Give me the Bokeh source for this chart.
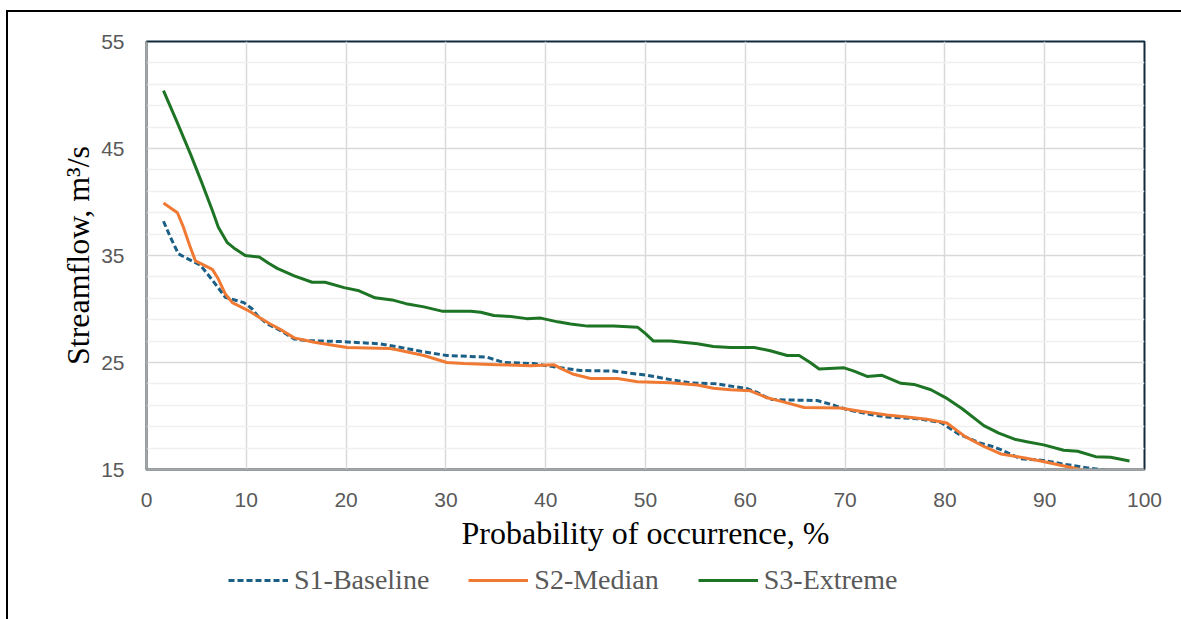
from bokeh.plotting import figure
from bokeh.layouts import column
from bokeh.models import FixedTicker, Legend, LegendItem, Range1d
from bokeh.embed import file_html
from bokeh.resources import INLINE

# ---- data ----
x_ticks = [0, 10, 20, 30, 40, 50, 60, 70, 80, 90, 100]
y_ticks = [15, 25, 35, 45, 55]
y_minor = [17, 19, 21, 23, 27, 29, 31, 33, 37, 39, 41, 43, 47, 49, 51, 53]

s1_x = [1.7, 2.4, 3.2, 4.1, 5.4, 6.6, 7.9, 9.0, 9.75, 10.6, 11.1, 12.1, 13.4, 14.8, 16.0,
        19.4, 23.4, 26.1, 27.5, 30.1, 34.1, 35.8, 38.8, 40.8, 43.5, 46.8, 50.2, 52.5, 54.5,
        57.2, 60.2, 61.2, 62.5, 64.2, 67.2, 68.9, 70.2, 72.2, 74.2, 77.2, 79.6, 81.4, 83.6,
        84.6, 85.6, 87.6, 89.9, 91.9, 94.3, 96.3]
s1_y = [38.2, 36.7, 35.15, 34.7, 34.1, 32.7, 31.1, 30.8, 30.6, 30.0, 29.4, 28.6, 28.0, 27.2,
        27.05, 26.96, 26.75, 26.3, 26.05, 25.65, 25.5, 25.0, 24.9, 24.6, 24.25, 24.2, 23.8,
        23.4, 23.1, 23.0, 22.55, 22.2, 21.55, 21.5, 21.45, 21.0, 20.6, 20.2, 19.9, 19.75,
        19.4, 18.3, 17.45, 17.2, 16.85, 16.0, 15.85, 15.5, 15.15, 14.9]

s2_x = [1.7, 3.1, 3.7, 4.3, 4.9, 6.6, 7.2, 7.9, 8.6, 10.1, 12.4, 13.4, 14.8, 16.8, 20.1,
        24.4, 25.1, 27.8, 30.1, 31.8, 35.1, 38.5, 40.8, 41.6, 42.8, 44.5, 47.2, 49.2, 52.5,
        55.2, 56.8, 58.5, 60.5, 62.2, 63.9, 65.9, 69.5, 71.5, 74.2, 76.2, 78.2, 80.2, 82.0,
        83.9, 85.6, 87.9, 89.6, 91.6, 93.6, 95.6]
s2_y = [39.9, 39.0, 37.65, 36.0, 34.5, 33.7, 32.8, 31.4, 30.6, 29.9, 28.6, 28.1, 27.3, 26.9,
        26.4, 26.3, 26.2, 25.65, 25.0, 24.9, 24.8, 24.7, 24.8, 24.4, 23.9, 23.5, 23.5, 23.2,
        23.1, 22.9, 22.6, 22.45, 22.35, 21.7, 21.3, 20.8, 20.75, 20.45, 20.1, 19.9, 19.7,
        19.35, 18.1, 17.15, 16.45, 16.1, 15.8, 15.4, 15.0, 14.7]

s3_x = [1.7, 3.0, 4.4, 5.5, 6.6, 7.2, 8.1, 8.9, 9.9, 11.3, 12.2, 13.1, 14.8, 16.6, 17.9,
        19.8, 21.3, 22.9, 24.6, 26.0, 27.8, 29.6, 32.5, 33.5, 34.8, 36.5, 38.1, 39.5, 41.2,
        42.5, 44.2, 46.8, 49.2, 50.0, 50.8, 52.5, 55.2, 56.8, 58.5, 60.9, 62.5, 64.2, 65.4,
        66.5, 67.4, 69.9, 70.9, 72.2, 73.7, 75.6, 76.9, 78.6, 80.1, 81.7, 83.9, 85.4, 87.1,
        88.2, 89.9, 91.9, 93.3, 95.1, 96.6, 98.5]
s3_y = [50.4, 47.6, 44.5, 41.9, 39.2, 37.65, 36.2, 35.6, 35.0, 34.85, 34.3, 33.8, 33.1, 32.5,
        32.5, 32.0, 31.7, 31.05, 30.85, 30.5, 30.2, 29.8, 29.8, 29.7, 29.4, 29.3, 29.1, 29.15,
        28.8, 28.6, 28.4, 28.4, 28.3, 27.7, 27.0, 27.0, 26.75, 26.5, 26.4, 26.4, 26.1, 25.65,
        25.65, 25.0, 24.4, 24.5, 24.2, 23.7, 23.8, 23.05, 22.95, 22.45, 21.7, 20.7, 19.1,
        18.4, 17.8, 17.6, 17.3, 16.8, 16.7, 16.2, 16.15, 15.8]

series_names = ["S1-Baseline", "S2-Median", "S3-Extreme"]
series_colors = ["#1b5f86", "#f07a34", "#1d7424"]
series_dash = ["6 3", "solid", "solid"]

x_title = "Probability of occurrence, %"
y_title = "Streamflow, m\u00b3/s"

# ---- main chart ----
p = figure(width=1173, height=551, output_backend="svg", toolbar_location=None,
           x_range=Range1d(0, 100), y_range=Range1d(15, 55),
           min_border_left=138, min_border_right=37, min_border_top=29, min_border_bottom=94)
p.background_fill_color = "white"
p.border_fill_color = "white"
p.outline_line_color = "#112a3c"
p.outline_line_width = 2

p.xaxis.ticker = FixedTicker(ticks=x_ticks)
p.yaxis.ticker = FixedTicker(ticks=y_ticks, minor_ticks=y_minor)
for ax in (p.xaxis[0], p.yaxis[0]):
    ax.axis_line_color = "#a6a6a6"
    ax.axis_line_width = 2
    ax.major_tick_line_color = None
    ax.minor_tick_line_color = None
    ax.major_tick_out = 0
    ax.minor_tick_out = 0
    ax.major_label_text_font = "Liberation Sans"
    ax.major_label_text_font_size = "21px"
    ax.major_label_text_color = "#595959"
    ax.axis_label_text_font = "Liberation Serif"
    ax.axis_label_text_font_style = "normal"
    ax.axis_label_text_color = "#000000"
    ax.axis_label_text_font_size = "32px"
p.xaxis.major_label_standoff = 23
p.yaxis.major_label_standoff = 22
p.xaxis.axis_label = x_title
p.yaxis.axis_label = y_title
p.xaxis.axis_label_standoff = 5
p.yaxis.axis_label_standoff = 2

p.xgrid.grid_line_color = "#d9d9d9"
p.xgrid.grid_line_width = 1.5
p.ygrid.grid_line_color = "#d9d9d9"
p.ygrid.grid_line_width = 1.5
p.ygrid.minor_grid_line_color = "#f0f0f0"
p.ygrid.minor_grid_line_width = 1.5

series_xy = [(s1_x, s1_y), (s2_x, s2_y), (s3_x, s3_y)]
for (xs, ys), c, d in zip(series_xy, series_colors, series_dash):
    p.line(xs, ys, line_color=c, line_width=3, line_dash=d, line_join="round")

# ---- legend strip (separate canvas below the chart; its frame aligns with the chart) ----
lg = figure(width=1173, height=56, output_backend="svg", toolbar_location=None,
            x_range=Range1d(0, 1), y_range=Range1d(0, 1),
            x_axis_location=None, y_axis_location=None,
            min_border=0, outline_line_color=None)
lg.grid.visible = False
lg.background_fill_color = "white"
lg.border_fill_color = "white"
items = []
for (xs, ys), name, c, d in zip(series_xy, series_names, series_colors, series_dash):
    # same series, but outside this strip's ranges: only its legend swatch is visible
    r = lg.line(xs, ys, line_color=c, line_width=3, line_dash=d)
    items.append(LegendItem(label=name, renderers=[r]))
legend = Legend(items=items, orientation="horizontal", location=(82, 23),
                label_text_font="Liberation Serif", label_text_font_size="28px",
                label_text_color="#595959", glyph_width=60, glyph_height=30,
                label_height=30, label_standoff=6, spacing=39, padding=0, margin=0,
                border_line_color=None, background_fill_alpha=0)
lg.add_layout(legend)

layout = column(p, lg, spacing=0)
layout.styles = {"border-top": "2px solid #000000", "border-left": "2px solid #000000",
                 "margin-top": "10px", "margin-left": "6px"}

open("out.html", "w").write(file_html(layout, INLINE))
